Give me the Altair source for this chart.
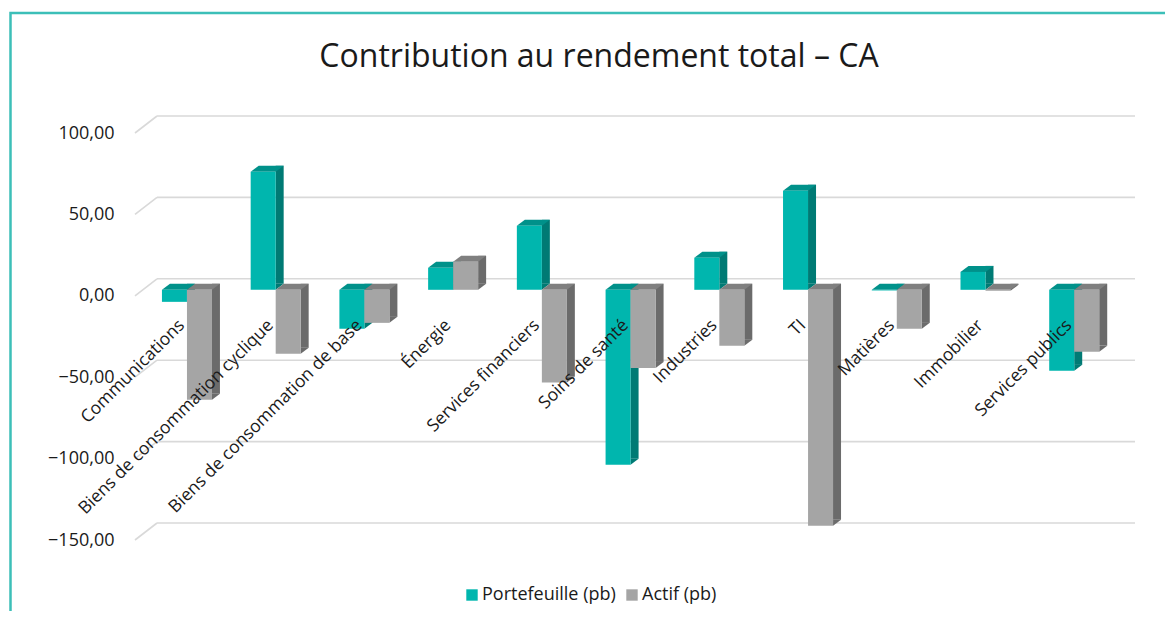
import altair as alt
import pandas as pd

# ---------------- data ----------------
categories = [
    "Communications",
    "Biens de consommation cyclique",
    "Biens de consommation de base",
    "Énergie",
    "Services financiers",
    "Soins de santé",
    "Industries",
    "TI",
    "Matières",
    "Immobilier",
    "Services publics",
]
portefeuille = [-7.4, 72.5, -24.0, 13.5, 39.3, -107.5, 19.7, 60.8, -0.4, 11.0, -49.8]
actif = [-67.6, -39.3, -20.3, 17.2, -57.0, -48.0, -34.4, -145.0, -24.0, -0.6, -38.0]
series = ["Portefeuille (pb)", "Actif (pb)"]
grid_values = [100, 50, 0, -50, -100, -150]
title_text = "Contribution au rendement total – CA"

front_colors = ["#00B6AE", "#A5A5A5"]
top_colors = ["#00918A", "#7F7F7F"]
side_colors = ["#007A74", "#6B6B6B"]

FONT = "Open Sans"

rows = []
for i, c in enumerate(categories):
    rows.append({"cat": c, "serie": series[0], "v": portefeuille[i]})
    rows.append({"cat": c, "serie": series[1], "v": actif[i]})
df = pd.DataFrame(rows)
df["high"] = df["v"].clip(lower=0)
df["low"] = df["v"].clip(upper=0)

cat_df = pd.DataFrame({"cat": categories})
grid_df = pd.DataFrame({"g": grid_values})
one = pd.DataFrame({"t": [title_text]})

# ---------------- geometry ----------------
W = 976
H = 407
PL, PT = 134.6, 125  # plot origin at (142.6, 133) on the page
DEPTH_X, DEPTH_Y = 8, 6
SHIFT = -6  # bars sit slightly above the labelled front plane

xscale = alt.Scale(domain=categories, paddingInner=0.436, paddingOuter=0.218)
yscale = alt.Scale(domain=[-150, 100], nice=False, zero=False)
X = alt.X("cat:N", scale=xscale, axis=None, sort=categories)
XO = alt.XOffset("serie:N", sort=series,
                 scale=alt.Scale(type="band", domain=series, paddingInner=0, paddingOuter=0))
# side faces sit just right of each front face (sub-band shifted by half a bar + half the depth)
XO_SIDE = alt.XOffset("serie:N", sort=series,
                      scale=alt.Scale(type="band", domain=series, range=[16.5, 66.5],
                                      paddingInner=0, paddingOuter=0))

# border frame
border = alt.Chart(one).mark_rect(
    fill="transparent", stroke="#3CBFB8", strokeWidth=2.5
).encode(
    x=alt.value(10.5 - 142.6), x2=alt.value(1200),
    y=alt.value(13 - 133), y2=alt.value(700),
)

# back gridlines and the slanted joins to the labels
grid = alt.Chart(grid_df).mark_rule(
    color="#D9D9D9", strokeWidth=1.6, yOffset=-17, y2Offset=-17
).encode(
    x=alt.value(157 - 142.6), x2=alt.value(1135 - 142.6),
    y=alt.Y("g:Q", scale=yscale, axis=alt.Axis(
        values=grid_values, grid=False, ticks=False, domain=False,
        labelPadding=28.6, labelFontSize=18, labelColor="#1a1a1a", labelFont=FONT,
        labelExpr="replace(format(datum.value, '.2f'), '.', ',')", title=None)),
)
slant = alt.Chart(grid_df).mark_rule(
    color="#D9D9D9", strokeWidth=1.6, y2Offset=-17
).encode(
    x=alt.value(135 - 142.6), x2=alt.value(157 - 142.6),
    y=alt.Y("g:Q", scale=yscale), y2="g:Q",
)

# 3D side faces
side = alt.Chart(df).mark_bar(
    width=DEPTH_X, yOffset=SHIFT - DEPTH_Y, y2Offset=SHIFT - DEPTH_Y,
).encode(
    x=X, xOffset=XO_SIDE,
    y=alt.Y("v:Q", scale=yscale), y2=alt.datum(0),
    color=alt.Color("serie:N", scale=alt.Scale(domain=series, range=side_colors), legend=None),
)
side_tri = alt.Chart(df).mark_point(
    shape="M12.5,0 L12.5,-6 L20.5,-6 Z", size=4, filled=True, opacity=1,
    strokeWidth=0, yOffset=SHIFT,
).encode(
    x=X, xOffset=XO,
    y=alt.Y("low:Q", scale=yscale),
    color=alt.Color("serie:N", scale=alt.Scale(domain=series, range=side_colors), legend=None),
)
top = alt.Chart(df).mark_point(
    shape="M-12.5,0 L12.5,0 L20.5,-6 L-4.5,-6 Z", size=4, filled=True, opacity=1,
    strokeWidth=0, yOffset=SHIFT,
).encode(
    x=X, xOffset=XO,
    y=alt.Y("high:Q", scale=yscale),
    color=alt.Color("serie:N", scale=alt.Scale(domain=series, range=top_colors), legend=None),
)
front = alt.Chart(df).mark_bar(yOffset=SHIFT, y2Offset=SHIFT).encode(
    x=X, xOffset=XO,
    y=alt.Y("v:Q", scale=yscale), y2=alt.datum(0),
    color=alt.Color("serie:N", scale=alt.Scale(domain=series, range=front_colors),
                    sort=series,
                    legend=alt.Legend(
                        title=None, orient="none", legendX=463 - 142.6, legendY=586 - 133,
                        direction="horizontal", symbolType="square", symbolSize=130,
                        symbolStrokeWidth=0, labelFontSize=18, labelFont=FONT,
                        labelColor="#1a1a1a", columnPadding=7, labelOffset=1, padding=0)),
)

labels = alt.Chart(cat_df).mark_text(
    align="right", baseline="middle", angle=315, fontSize=17.5, font=FONT,
    color="#1a1a1a", xOffset=-5, yOffset=27,
).encode(
    x=X, y=alt.Y(datum=0, scale=yscale),
    text="cat:N",
)

title = alt.Chart(one).mark_text(
    fontSize=32, font=FONT, color="#1a1a1a", align="center", baseline="middle"
).encode(
    x=alt.value(599 - 142.6), y=alt.value(57 - 133), text="t:N"
)

chart = alt.layer(
    border, grid, slant, side, side_tri, top, front, labels, title
).resolve_scale(color="independent", xOffset="independent").properties(
    width=W, height=H,
    background="white",
    autosize=alt.AutoSizeParams(type="none"),
    padding={"left": PL, "top": PT, "right": 1157 - PL - W, "bottom": 603 - PT - H},
).configure_view(strokeWidth=0, stroke="transparent")

chart.save("out.html", embed_options={"renderer": "svg", "actions": False})
